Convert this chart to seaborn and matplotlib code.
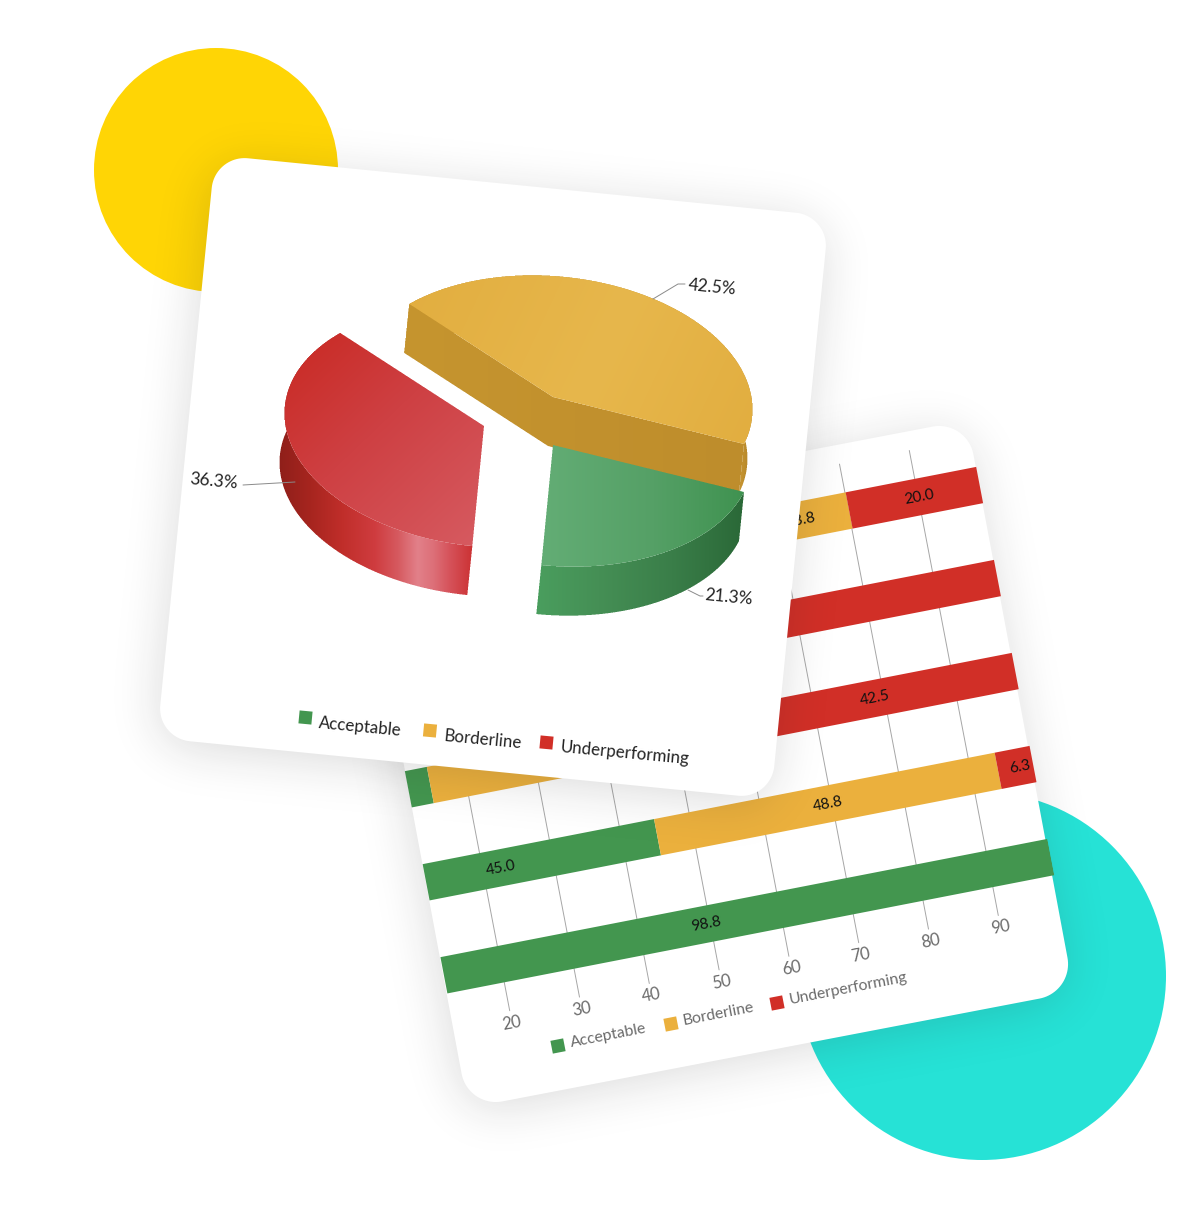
import numpy as np
import pandas as pd
import matplotlib
matplotlib.use("Agg")
import matplotlib.pyplot as plt
from matplotlib.colors import to_rgb
from matplotlib.path import Path
from matplotlib.patches import Circle, Polygon, Rectangle
from matplotlib.transforms import Affine2D
import seaborn as sns

# ---------- data ----------
series_names = ["Acceptable", "Borderline", "Underperforming"]
pie_values = [21.3, 36.3, 42.5]          # green, red, orange, clockwise
pie_labels = ["21.3%", "36.3%", "42.5%"]
rows = ["A", "B", "C", "D", "E"]
acceptable = [66.3, 17.5, 15.0, 45.0, 98.8]
borderline = [13.8, 10.0, 42.5, 48.8, 0.0]
underperforming = [20.0, 72.5, 42.5, 6.3, 0.0]
x_ticks = [20, 30, 40, 50, 60, 70, 80, 90]

# ---------- style ----------
W, H = 1200, 1230
GREEN, ORANGE, RED = "#43964F", "#EBB03D", "#D12F27"
sns.set_theme(style="white")
plt.rcParams["font.family"] = ["Lato", "DejaVu Sans"]

fig = plt.figure(figsize=(W / 100, H / 100), dpi=100, facecolor="white")
ax = fig.add_axes([0, 0, 1, 1])


def rounded_card(tl, tr, bl, r):
    tl, tr, bl = map(np.asarray, (tl, tr, bl))
    u = (tr - tl) / np.linalg.norm(tr - tl)
    v = (bl - tl) / np.linalg.norm(bl - tl)
    w, h = np.linalg.norm(tr - tl), np.linalg.norm(bl - tl)
    pts = []
    for (cx, cy, a0) in [(r, r, 180), (w - r, r, 270), (w - r, h - r, 0), (r, h - r, 90)]:
        for a in np.radians(np.linspace(a0, a0 + 90, 24)):
            pts.append(tl + u * (cx + r * np.cos(a)) + v * (cy + r * np.sin(a)))
    return np.array(pts)


def shadow(verts, z, sigma=24, alpha=0.16, off=(-2, 8), step=4):
    xs = (np.arange(0, W, step) + step / 2)
    ys = (np.arange(0, H, step) + step / 2)
    gx, gy = np.meshgrid(xs - off[0], ys - off[1])
    m = Path(verts).contains_points(np.c_[gx.ravel(), gy.ravel()]).reshape(gx.shape).astype(float)
    s = sigma / step
    k = np.exp(-0.5 * (np.arange(-int(3 * s), int(3 * s) + 1) / s) ** 2)
    k /= k.sum()
    m = np.apply_along_axis(lambda c: np.convolve(c, k, mode="same"), 0, m)
    m = np.apply_along_axis(lambda c: np.convolve(c, k, mode="same"), 1, m)
    img = np.zeros(m.shape + (4,))
    img[..., :3] = 0.12
    img[..., 3] = m * alpha
    ax.imshow(img, extent=(0, W, H, 0), origin="upper", aspect="auto",
              interpolation="bilinear", zorder=z)


def gradient_poly(verts, stops, p0, p1, z, ss=3):
    verts = np.asarray(verts)
    x0, y0 = np.floor(verts.min(axis=0)).astype(int) - 1
    x1, y1 = np.ceil(verts.max(axis=0)).astype(int) + 1
    nx, ny = x1 - x0, y1 - y0
    sx = x0 + (np.arange(nx * ss) + 0.5) / ss
    sy = y0 + (np.arange(ny * ss) + 0.5) / ss
    gx, gy = np.meshgrid(sx, sy)
    m = Path(verts).contains_points(np.c_[gx.ravel(), gy.ravel()]).reshape(gx.shape).astype(float)
    m = m.reshape(ny, ss, nx, ss).mean(axis=(1, 3))
    px, py = np.meshgrid(x0 + np.arange(nx) + 0.5, y0 + np.arange(ny) + 0.5)
    d = np.subtract(p1, p0, dtype=float)
    t = ((px - p0[0]) * d[0] + (py - p0[1]) * d[1]) / (d @ d)
    pos = [s[0] for s in stops]
    cols = np.array([to_rgb(s[1]) for s in stops])
    img = np.zeros((ny, nx, 4))
    for i in range(3):
        img[..., i] = np.interp(t, pos, cols[:, i])
    img[..., 3] = m
    ax.imshow(img, extent=(x0, x1, y1, y0), origin="upper", aspect="auto",
              interpolation="nearest", zorder=z)


# ---------- backdrop ----------
ax.add_patch(Circle((216, 170), 122, fc="#FFD505", ec="none", zorder=1))
ax.add_patch(Circle((982, 976), 184, fc="#26E2D6", ec="none", zorder=1))

# ---------- rear card: stacked bars ----------
back = rounded_card((967 - 617 * 0.982, 420 + 617 * 0.188), (967, 420), (468, 1108), 35)
shadow(back, 2)
ax.add_patch(Polygon(back, fc="white", ec="none", zorder=3))

# bar-space to picture-space: value along the bar, row index across it
T = Affine2D.from_values(6.98, -1.36, 17.8, 93.0, 290.0, 619.4)
TD = T + ax.transData
V0, V1 = 11.85, 98.8
plot_clip = Polygon([(V0, -0.6), (V1, -0.6), (V1, 4.6), (V0, 4.6)], closed=True, transform=TD)

for tick in x_ticks:
    ax.plot([tick, tick], [-0.5, 4.5], color="#A6A6A6", lw=0.7, transform=TD, zorder=4,
            scalex=False, scaley=False)
    ax.text(tick, 4.63, str(tick), transform=TD, rotation=11, rotation_mode="anchor",
            ha="center", va="center", fontsize=12, color="#6A6A6A", zorder=6)

lefts = np.zeros(len(rows))
for name, vals, col in zip(series_names, [acceptable, borderline, underperforming],
                           [GREEN, ORANGE, RED]):
    df = pd.DataFrame({"row": rows, "value": vals})
    n0 = len(ax.patches)
    sns.barplot(data=df, x="value", y="row", order=rows, orient="h", color=col, saturation=1,
                width=0.39, errorbar=None, left=lefts, linewidth=0, ax=ax, legend=False)
    for p in ax.patches[n0:]:
        p.set_transform(TD)
        p.set_clip_path(plot_clip)
        p.set_zorder(5)
    for i, v in enumerate(vals):
        centre = lefts[i] + v / 2
        if v > 0 and V0 <= centre <= V1:
            ax.text(centre, i, f"{v:.1f}", transform=TD, rotation=11,
                    rotation_mode="anchor", ha="center", va="center", fontsize=11,
                    color="#111111", zorder=6)
    lefts = lefts + np.array(vals)

legend_back = [((558, 1046), (571, 1043), GREEN), ((671, 1024), (683, 1021), ORANGE),
               ((777, 1003), (789, 1000), RED)]
for name, (sq, tx, col) in zip(series_names, legend_back):
    ax.add_patch(Rectangle((-6.5, -6.5), 13, 13, fc=col, ec="none", zorder=6,
                           transform=Affine2D().rotate_deg(-11).translate(*sq) + ax.transData))
    ax.text(tx[0], tx[1], name, rotation=11, rotation_mode="anchor", ha="left", va="center",
            fontsize=11.3, color="#6A6A6A", zorder=6)

# ---------- front card: exploded 3-D pie ----------
front = rounded_card((215, 155), (829, 216), (157, 738), 33)
shadow(front, 8)
ax.add_patch(Polygon(front, fc="white", ec="none", zorder=9))

A = np.array([[191.0, -57.5], [47.0, 112.2]])   # flattening of the unit circle
apexes = [(553, 445), (484, 426), (553, 397)]
lift = np.array([-5.0, 49.0])


def rim(apex, t0, t1):
    t = np.radians(np.linspace(t0, t1, 120))
    return np.asarray(apex) + (A @ np.vstack([np.cos(t), np.sin(t)])).T


edges = np.concatenate([[0], np.cumsum(pie_values)]) / np.sum(pie_values) * 360
wedges = [rim(a, edges[i], edges[i + 1]) for i, a in enumerate(apexes)]

# orange (back)
o_apex, o_arc = np.array(apexes[2], float), wedges[2]
gradient_poly(np.vstack([o_arc, (o_arc + lift)[::-1]]),
              [(0, "#C4922F"), (0.8, "#C4922F"), (1, "#AE8228")], (700, 0), (752, 0), 10)
gradient_poly(np.vstack([o_arc[0], o_apex, o_arc[-1], o_arc[-1] + lift, o_apex + lift, o_arc[0] + lift]),
              [(0, "#C6952F"), (1, "#BE8D2C")], (400, 0), (750, 0), 11)
gradient_poly(np.vstack([o_apex, o_arc]),
              [(0, "#E2AE40"), (0.55, "#E7B74C"), (1, "#E2AE40")], (410, 280), (750, 440), 12)

# red (left)
r_apex, r_arc = np.array(apexes[1], float), wedges[1]
gradient_poly(np.vstack([r_arc, (r_arc + lift)[::-1]]),
              [(0, "#8E1F1A"), (0.17, "#A7251F"), (0.33, "#C02E2A"), (0.5, "#CF3C3F"),
               (0.62, "#D65A60"), (0.72, "#E28089"), (0.80, "#DD7079"), (0.88, "#D6545C"),
               (1, "#CC3234")], (278, 0), (472, 0), 13)
gradient_poly(np.vstack([r_apex, r_arc]),
              [(0, "#C92A24"), (0.45, "#CE4043"), (1, "#D65A60")], (290, 340), (480, 540), 14)

# green (front)
g_apex, g_arc = np.array(apexes[0], float), wedges[0]
gradient_poly(np.vstack([g_arc, (g_arc + lift)[::-1]]),
              [(0, "#4A9E5E"), (0.3, "#458F55"), (0.65, "#3A7E49"), (1, "#2A6837")],
              (537, 0), (745, 0), 15)
gradient_poly(np.vstack([g_apex, g_arc]),
              [(0, "#63AD75"), (0.55, "#55A066"), (1, "#3F9250")], (542, 0), (745, 0), 16)

leaders = [[(688, 590), (700, 596), (703, 596)], [(295, 482), (243, 485)],
           [(653, 299), (678, 284), (685, 284)]]
label_at = [(729, 597), (214, 481), (712, 287)]
for txt, line, pos in zip(pie_labels, leaders, label_at):
    line = np.array(line)
    ax.plot(line[:, 0], line[:, 1], color="#8A8A8A", lw=0.7, zorder=17, scalex=False, scaley=False)
    ax.text(pos[0], pos[1], txt, rotation=-5.4, rotation_mode="anchor", ha="center", va="center",
            fontsize=12.5, color="#222222", zorder=18)

legend_front = [((305.5, 717.5), (319, 723), GREEN), ((430, 730.5), (444, 736), ORANGE),
                ((546.5, 742.5), (560, 747), RED)]
for name, (sq, tx, col) in zip(series_names, legend_front):
    ax.add_patch(Rectangle((-6.5, -6.5), 13, 13, fc=col, ec="none", zorder=18,
                           transform=Affine2D().rotate_deg(5.4).translate(*sq) + ax.transData))
    ax.text(tx[0], tx[1], name, rotation=-5.4, rotation_mode="anchor", ha="left", va="center",
            fontsize=12.2, color="#222222", zorder=18)

ax.set_xlim(0, W)
ax.set_ylim(H, 0)
ax.set_axis_off()
fig.savefig("out.png", dpi=100, facecolor="white")
